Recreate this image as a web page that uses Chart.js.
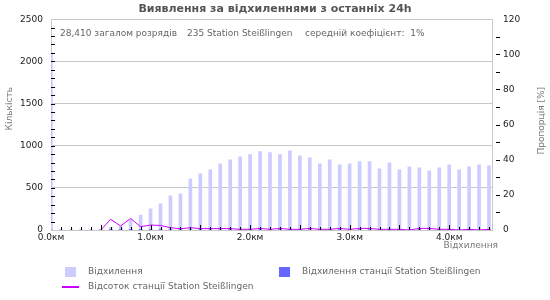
<!DOCTYPE html>
<html>
<head>
<meta charset="utf-8">
<script src="https://cdn.jsdelivr.net/npm/chart.js@4.4.1/dist/chart.umd.min.js"></script>
<style>
  html, body { margin: 0; padding: 0; background: #fff; }
  #wrap { width: 550px; height: 300px; }
</style>
</head>
<body>
<div id="wrap"><canvas id="chart"></canvas></div>
<script>
// Distance classes in km (bar centres)
const distances = [0.0, 0.1, 0.2, 0.3, 0.4, 0.5, 0.6, 0.7, 0.8, 0.9,
                   1.0, 1.1, 1.2, 1.3, 1.4, 1.5, 1.6, 1.7, 1.8, 1.9,
                   2.0, 2.1, 2.2, 2.3, 2.4, 2.5, 2.6, 2.7, 2.8, 2.9,
                   3.0, 3.1, 3.2, 3.3, 3.4, 3.5, 3.6, 3.7, 3.8, 3.9,
                   4.0, 4.1, 4.2, 4.3, 4.4];

// All strikes per distance class
const totalCounts = [2100, 0, 0, 0, 0, 3, 33, 43, 125, 178,
                     250, 310, 405, 429, 607, 667, 714, 786, 833, 869,
                     893, 929, 917, 893, 940, 881, 857, 786, 833, 774,
                     786, 810, 810, 726, 798, 714, 750, 738, 702, 738,
                     774, 714, 750, 774, 762];

// Strikes of the station per distance class
const stationCounts = [0, 0, 0, 0, 0, 0, 2, 1, 8, 3,
                       7, 8, 5, 3, 8, 5, 6, 6, 7, 3,
                       4, 8, 4, 8, 4, 4, 8, 3, 3, 7,
                       3, 7, 7, 3, 3, 3, 0, 7, 6, 3,
                       3, 0, 3, 0, 3];

// Station share in percent
const stationPercent = [null, null, null, null, null, 0, 6.1, 2.3, 6.6, 1.9,
                        2.8, 2.6, 1.3, 0.7, 1.3, 0.8, 0.8, 0.8, 0.8, 0.4,
                        0.4, 0.9, 0.4, 0.9, 0.4, 0.4, 0.9, 0.4, 0.4, 0.9,
                        0.4, 0.9, 0.9, 0.4, 0.4, 0.4, 0, 0.9, 0.9, 0.4,
                        0.4, 0, 0.4, 0, 0.4];

const kmTicks = [0, 1, 2, 3, 4];
const summaryTexts = ['28,410 загалом розрядів', '235 Station Steißlingen', 'середній коефіцієнт:  1%'];

const LIGHT = '#ccccff';
const DARK = '#6666ff';
const LINE = '#cc00ff';
const GRID = '#c8c8c8';

const toPoints = (vals) => distances.map((d, i) => ({ x: d, y: vals[i] }));

// axis titles, minor ticks, summary line and legend
const extrasPlugin = {
    id: 'extras',
    afterDatasetsDraw(chart) {
        const { ctx, chartArea: a, scales } = chart;
        ctx.save();
        ctx.strokeStyle = '#000';
        ctx.lineWidth = 1;
        ctx.beginPath();
        for (let v = 100; v < 2500; v += 100) {
            const y = Math.round(scales.y.getPixelForValue(v)) + 0.5;
            ctx.moveTo(a.left, y);
            ctx.lineTo(a.left + 4, y);
        }
        distances.forEach((d, i) => {
            if (i === 0) return;
            const x = Math.round(scales.x.getPixelForValue(d)) + 0.5;
            const len = i % 5 === 0 ? 5 : 3;
            ctx.moveTo(x, a.bottom);
            ctx.lineTo(x, a.bottom - len);
        });
        for (let v = 10; v < 120; v += 10) {
            const y = Math.round(scales.y1.getPixelForValue(v)) + 0.5;
            ctx.moveTo(a.right + 4, y);
            ctx.lineTo(a.right + 8, y);
        }
        ctx.stroke();
        ctx.restore();
    },
    afterDraw(chart) {
        const { ctx } = chart;
        ctx.save();
        ctx.font = '9px "DejaVu Sans"';
        ctx.textBaseline = 'middle';

        // summary inside plot
        ctx.fillStyle = '#666';
        ctx.textAlign = 'left';
        ctx.fillText(summaryTexts[0], 60, 34);
        ctx.fillText(summaryTexts[1], 187, 34);
        ctx.fillText(summaryTexts[2], 305, 34);

        // axis titles
        ctx.fillStyle = '#777';
        ctx.textAlign = 'right';
        ctx.fillText('Відхилення', 498, 246);
        ctx.save();
        ctx.translate(10, 87);
        ctx.rotate(-Math.PI / 2);
        ctx.fillText('Кількість', 0, 0);
        ctx.restore();
        ctx.save();
        ctx.translate(542, 87);
        ctx.rotate(-Math.PI / 2);
        ctx.fillText('Пропорція [%]', 0, 0);
        ctx.restore();

        // legend
        ctx.textAlign = 'left';
        ctx.fillStyle = LIGHT;
        ctx.fillRect(65, 267, 11, 10);
        ctx.fillStyle = DARK;
        ctx.fillRect(279, 267, 11, 10);
        ctx.strokeStyle = LINE;
        ctx.lineWidth = 2;
        ctx.beginPath();
        ctx.moveTo(62, 287);
        ctx.lineTo(79, 287);
        ctx.stroke();
        ctx.fillStyle = '#666';
        chart.data.datasets.forEach((ds, i) => {
            const pos = [[88, 272], [302, 272], [88, 287]][i];
            ctx.fillText(ds.label, pos[0], pos[1]);
        });
        ctx.restore();
    }
};

Chart.defaults.font.family = '"DejaVu Sans", sans-serif';
Chart.defaults.font.size = 9;
Chart.defaults.color = '#222';

new Chart(document.getElementById('chart'), {
    data: {
        datasets: [{
            type: 'bar',
            label: 'Відхилення',
            data: toPoints(totalCounts),
            backgroundColor: LIGHT,
            barThickness: 3,
            grouped: false,
            yAxisID: 'y',
            order: 2
        }, {
            type: 'bar',
            label: 'Відхилення станції Station Steißlingen',
            data: toPoints(stationCounts),
            backgroundColor: DARK,
            barThickness: 3,
            grouped: false,
            yAxisID: 'y',
            order: 1
        }, {
            type: 'line',
            label: 'Відсоток станції Station Steißlingen',
            data: toPoints(stationPercent),
            borderColor: LINE,
            borderWidth: 1,
            pointRadius: 0,
            tension: 0,
            spanGaps: false,
            yAxisID: 'y1',
            order: 0
        }]
    },
    options: {
        responsive: true,
        maintainAspectRatio: false,
        animation: false,
        layout: { padding: { left: 0, right: 0, top: 0, bottom: 50 } },
        plugins: {
            legend: { display: false },
            tooltip: { enabled: false },
            title: {
                display: true,
                text: 'Виявлення за відхиленнями з останніх 24h',
                color: '#555',
                font: { size: 11, weight: 'bold' },
                padding: { top: 3, bottom: 3 }
            }
        },
        scales: {
            x: {
                type: 'linear',
                offset: false,
                min: 0,
                max: 4.43,
                afterBuildTicks: (scale) => {
                    scale.ticks = kmTicks.map(v => ({ value: v }));
                },
                afterFit: (scale) => { scale.height = 20; },
                ticks: {
                    callback: (v) => v.toFixed(1) + 'км',
                    padding: 2,
                    maxRotation: 0,
                    autoSkip: false
                },
                grid: { drawOnChartArea: false, drawTicks: false },
                border: { color: GRID }
            },
            y: {
                position: 'left',
                min: 0,
                max: 2500,
                afterFit: (scale) => { scale.width = 51; },
                ticks: { stepSize: 500, padding: 8, callback: (v) => String(v) },
                grid: { color: GRID, drawTicks: false },
                border: { color: GRID }
            },
            y1: {
                position: 'right',
                min: 0,
                max: 120,
                afterFit: (scale) => { scale.width = 58; },
                ticks: { stepSize: 20, padding: 11, callback: (v) => String(v) },
                grid: { drawOnChartArea: false, drawTicks: false },
                border: { color: GRID }
            }
        }
    },
    plugins: [extrasPlugin]
});
</script>
</body>
</html>
